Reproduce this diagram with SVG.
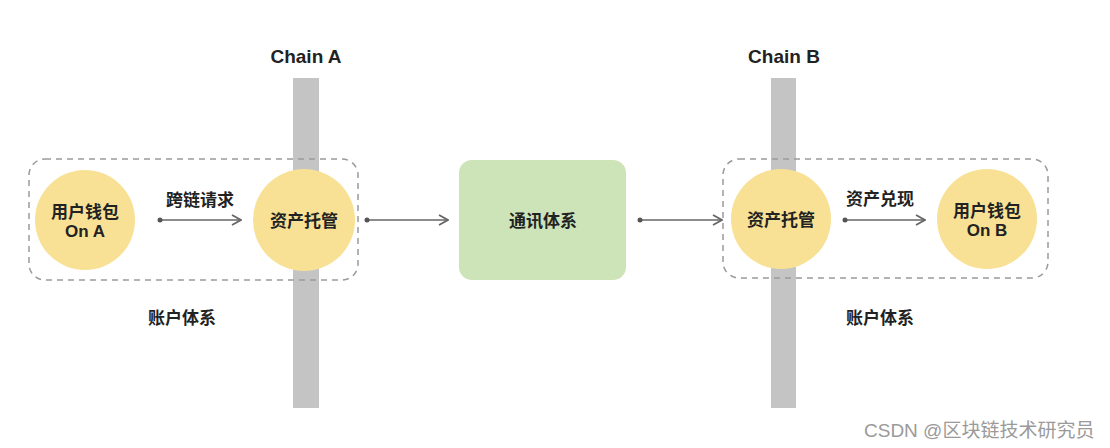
<svg xmlns="http://www.w3.org/2000/svg" width="1110" height="448" viewBox="0 0 1110 448">
<style>
.t{font-family:"Liberation Sans","Noto Sans CJK SC",sans-serif;font-weight:bold;font-size:17px;fill:#222;text-anchor:middle}
.lbl{font-family:"Liberation Sans","Noto Sans CJK SC",sans-serif;font-weight:bold;font-size:19px;fill:#222;text-anchor:middle}
.bar{fill:#c4c4c4}
.grp{fill:none;stroke:#9a9a9a;stroke-width:1.5;stroke-dasharray:6 5}
.circ{fill:#f8e195}
.con{stroke:#666;stroke-width:1.6;fill:none;marker-start:url(#dot);marker-end:url(#arr)}
.wm{font-family:"Liberation Sans","Noto Sans CJK SC",sans-serif;font-size:19px;fill:#9a9a9a}
</style>
<defs>
<marker id="dot" viewBox="0 0 6 6" refX="3" refY="3" markerWidth="6" markerHeight="6" markerUnits="userSpaceOnUse"><circle cx="3" cy="3" r="2.5" fill="#555"/></marker>
<marker id="arr" viewBox="0 0 12 12" refX="11" refY="6" markerWidth="12" markerHeight="12" markerUnits="userSpaceOnUse" orient="auto"><path d="M2,1 L11,6 L2,11" fill="none" stroke="#666" stroke-width="1.8"/></marker>
</defs>
<rect width="1110" height="448" fill="#fff"/>
<g id="chainA">
<rect class="bar" x="293" y="78" width="26" height="330"/>
<text class="lbl" x="306" y="63">Chain A</text>
</g>
<g id="chainB">
<rect class="bar" x="771" y="78" width="25" height="330"/>
<text class="lbl" x="784" y="63">Chain B</text>
</g>
<g id="accountA">
<rect class="grp" x="29" y="159" width="329" height="121" rx="16"/>
<text class="t" x="182" y="324">账户体系</text>
</g>
<g id="accountB">
<rect class="grp" x="723" y="159" width="325" height="119" rx="16"/>
<text class="t" x="880" y="324">账户体系</text>
</g>
<g id="walletA">
<circle class="circ" cx="85" cy="220" r="50"/>
<text class="t" x="85" y="218">用户钱包</text>
<text class="t" x="85" y="237">On A</text>
</g>
<g id="custodyA">
<circle class="circ" cx="304" cy="220" r="51"/>
<text class="t" x="304" y="227">资产托管</text>
</g>
<g id="comm">
<rect x="459" y="160" width="167" height="120" rx="13" fill="#cde3b8"/>
<text class="t" x="543" y="227">通讯体系</text>
</g>
<g id="custodyB">
<circle class="circ" cx="781" cy="219" r="50"/>
<text class="t" x="781" y="226">资产托管</text>
</g>
<g id="walletB">
<circle class="circ" cx="987" cy="219" r="50"/>
<text class="t" x="987" y="217">用户钱包</text>
<text class="t" x="987" y="236">On B</text>
</g>
<g id="connectors">
<line class="con" x1="160" y1="220" x2="241" y2="220"/>
<text class="t" x="200" y="206">跨链请求</text>
<line class="con" x1="367" y1="220" x2="448" y2="220"/>
<line class="con" x1="640" y1="220" x2="722" y2="220"/>
<line class="con" x1="845" y1="220" x2="925" y2="220"/>
<text class="t" x="880" y="205">资产兑现</text>
</g>
<text class="wm" x="864" y="437">CSDN @区块链技术研究员</text>
</svg>
